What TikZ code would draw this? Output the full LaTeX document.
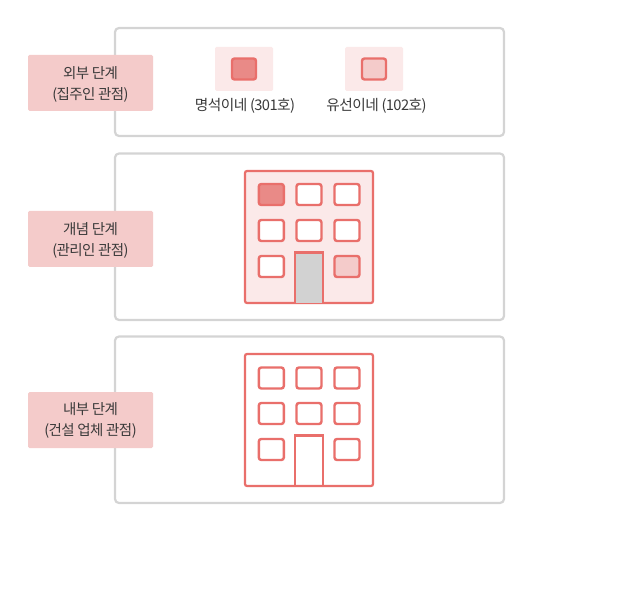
\documentclass[tikz,border=0pt]{standalone}
\usepackage{fontspec}
\setmainfont{Noto Sans CJK KR}[LetterSpace=-4.0]
\definecolor{boxgray}{HTML}{D4D4D4}
\definecolor{labelpink}{HTML}{F4CBCA}
\definecolor{palepink}{HTML}{FBE9E9}
\definecolor{redline}{HTML}{E96F6B}
\definecolor{midred}{HTML}{E98A87}
\definecolor{doorgray}{HTML}{D2D2D2}
\definecolor{txt}{HTML}{3A3A3A}
\tikzset{
  stage/.style={draw=boxgray,line width=2.2pt,rounded corners=4pt,fill=white},
  stagelabel/.style={fill=labelpink,rounded corners=1.5pt,minimum width=125pt,minimum height=56pt,inner sep=0pt,align=center,text=txt,font=\fontsize{14.5pt}{21pt}\selectfont},
  swatch/.style={fill=palepink,rounded corners=1.5pt,minimum width=58pt,minimum height=44pt,inner sep=0pt},
  win/.style={draw=redline,line width=2.4pt,rounded corners=2.5pt,minimum width=25pt,minimum height=21pt,inner sep=0pt,fill=white},
  capt/.style={text=txt,inner sep=0pt,font=\fontsize{14.7pt}{16pt}\selectfont},
  bldg/.style={draw=redline,line width=2.2pt,rounded corners=2pt},
  doorway/.style={draw=redline,line width=2.4pt},
}
\begin{document}
\begin{tikzpicture}[x=1pt,y=-1pt]
\useasboundingbox (0,0) rectangle (618,609);
% stage frames
\draw[stage] (115,28) rectangle (504,136);
\draw[stage] (115,153.5) rectangle (504,320);
\draw[stage] (115,336.5) rectangle (504,503);
% labels
\node[stagelabel] (l1) at (90.5,83) {};
\node[stagelabel] (l2) at (90.5,239) {};
\node[stagelabel] (l3) at (90.5,420) {};
\node[align=center,text=txt,inner sep=0pt,font=\fontsize{14.5pt}{21pt}\selectfont] (t1) at (90.5,84) {외부 단계\\(집주인 관점)};
\node[align=center,text=txt,inner sep=0pt,font=\fontsize{14.5pt}{21pt}\selectfont] (t2) at (90.5,240) {개념 단계\\(관리인 관점)};
\node[align=center,text=txt,inner sep=0pt,font=\fontsize{14.5pt}{21pt}\selectfont] (t3) at (90.5,420.5) {내부 단계\\(건설 업체 관점)};
% swatches
\node[swatch] (s1) at (244,69) {};
\node[swatch] (s2) at (374,69) {};
\node[win,fill=midred,minimum width=24pt] (k1) at (244,69) {};
\node[win,fill=labelpink,minimum width=24pt] (k2) at (374,69) {};
\node[capt] (c1) at (245,106) {명석이네 (301호)};
\node[capt] (c2) at (376.5,106) {유선이네 (102호)};
% building 2
\draw[bldg,fill=palepink] (245,171) rectangle (373,303);
\node[win,fill=midred] at (271.3,194.5) {};
\node[win] at (309,194.5) {};
\node[win] at (347,194.5) {};
\node[win] at (271.3,230.5) {};
\node[win] at (309,230.5) {};
\node[win] at (347,230.5) {};
\node[win] at (271.3,266.5) {};
\node[win,fill=labelpink] at (347,266.5) {};
\draw[doorway,fill=doorgray] (295,303) -- (295,252.5) -- (323,252.5) -- (323,303);
% building 3
\draw[bldg,fill=white] (245,354) rectangle (373,486);
\node[win] at (271.3,378) {};
\node[win] at (309,378) {};
\node[win] at (347,378) {};
\node[win] at (271.3,413.5) {};
\node[win] at (309,413.5) {};
\node[win] at (347,413.5) {};
\node[win] at (271.3,449.5) {};
\node[win] at (347,449.5) {};
\draw[doorway] (295,486) -- (295,435.5) -- (323,435.5) -- (323,486);
\end{tikzpicture}
\end{document}
